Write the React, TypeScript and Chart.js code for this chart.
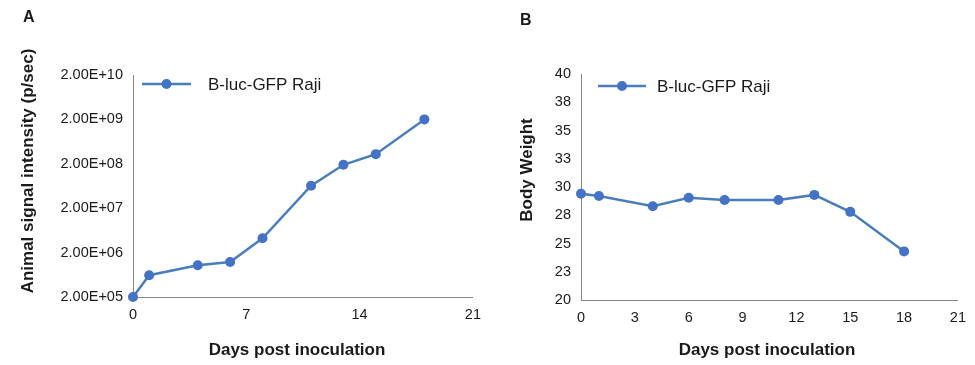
import React, { useEffect, useRef } from "react";
import { Chart, registerables } from "chart.js";

Chart.register(...registerables);

// ---- data ----
const days = [0, 1, 4, 6, 8, 11, 13, 15, 18];
const signal = [2.0e5, 6.2e5, 1.04e6, 1.23e6, 4.2e6, 6.4e7, 1.9e8, 3.3e8, 2.0e9];
const bodyWeight = [29.4, 29.2, 28.3, 29.05, 28.85, 28.85, 29.3, 27.8, 24.3];
const signalTicks = [2e5, 2e6, 2e7, 2e8, 2e9, 2e10];
const weightTicks = [20, 22.5, 25, 27.5, 30, 32.5, 35, 37.5, 40];
const seriesLabel = "B-luc-GFP Raji";
const xTitle = "Days post inoculation";
const yTitleA = "Animal signal intensity (p/sec)";
const yTitleB = "Body Weight";

const FONT = "'Liberation Sans', Arial, sans-serif";
const LINE_COLOR = "#4A7EBB";
const POINT_COLOR = "#4472C4";
const AXIS_COLOR = "#868686";
const TEXT_COLOR = "#1a1a1a";

function fmtExp(v: number): string {
  const [m, e] = v.toExponential(2).split("e");
  const n = parseInt(e, 10);
  const sign = n < 0 ? "-" : "+";
  return `${m.toUpperCase()}E${sign}${String(Math.abs(n)).padStart(2, "0")}`;
}

const overlayPlugin = {
  id: "overlay",
  afterDraw(chart: any, _args: any, opts: any) {
    const ctx = chart.ctx as CanvasRenderingContext2D;
    const area = chart.chartArea;
    ctx.save();
    // panel label
    ctx.fillStyle = TEXT_COLOR;
    ctx.font = `bold 16px ${FONT}`;
    ctx.textAlign = "left";
    ctx.textBaseline = "alphabetic";
    ctx.fillText(opts.panel, opts.panelX, opts.panelY);
    // axis titles
    ctx.font = `bold 17px ${FONT}`;
    ctx.textAlign = "center";
    ctx.textBaseline = "middle";
    ctx.fillText(opts.xTitle, opts.xTitleX, opts.xTitleY);
    ctx.save();
    ctx.translate(opts.yTitleX, opts.yTitleY);
    ctx.rotate(-Math.PI / 2);
    ctx.fillText(opts.yTitle, 0, 0);
    ctx.restore();
    // legend
    const ds = chart.data.datasets[0];
    const ly = area.top + opts.legendDy;
    const lx0 = area.left + opts.legendDx;
    ctx.strokeStyle = ds.borderColor;
    ctx.lineWidth = ds.borderWidth;
    ctx.beginPath();
    ctx.moveTo(lx0, ly);
    ctx.lineTo(lx0 + opts.legendLen, ly);
    ctx.stroke();
    ctx.fillStyle = ds.pointBackgroundColor;
    ctx.beginPath();
    ctx.arc(lx0 + opts.legendLen / 2, ly, ds.pointRadius, 0, Math.PI * 2);
    ctx.fill();
    ctx.fillStyle = TEXT_COLOR;
    ctx.font = `17px ${FONT}`;
    ctx.textAlign = "left";
    ctx.textBaseline = "middle";
    ctx.fillText(ds.label, lx0 + opts.legendLen + opts.legendGap, ly + 1);
    ctx.restore();
  },
};

function dataset(values: number[]) {
  return {
    label: seriesLabel,
    data: days.map((d, i) => ({ x: d, y: values[i] })),
    borderColor: LINE_COLOR,
    borderWidth: 2.5,
    pointRadius: 5,
    pointHoverRadius: 5,
    pointBackgroundColor: POINT_COLOR,
    pointBorderColor: POINT_COLOR,
    pointBorderWidth: 0,
    tension: 0,
    clip: false as any,
  };
}

const tickFont = { family: FONT, size: 14.5 };

function configA(): any {
  return {
    type: "line",
    data: { datasets: [dataset(signal)] },
    options: {
      responsive: false,
      animation: false,
      devicePixelRatio: 1,
      events: [],
      layout: { padding: { top: 75, right: 14, left: 0, bottom: 0 } },
      plugins: {
        legend: { display: false },
        tooltip: { enabled: false },
        overlay: {
          panel: "A", panelX: 23, panelY: 21.5,
          xTitle, xTitleX: 297, xTitleY: 350,
          yTitle: yTitleA, yTitleX: 28, yTitleY: 171,
          legendDx: 9, legendDy: 9, legendLen: 49, legendGap: 17,
        },
      },
      scales: {
        x: {
          type: "linear", min: 0, max: 21,
          ticks: { stepSize: 7, padding: 9, color: TEXT_COLOR, font: tickFont, autoSkip: false, maxRotation: 0 },
          grid: { display: false, drawTicks: false },
          border: { display: true, color: AXIS_COLOR, width: 1 },
          afterFit: (s: any) => { s.height = 68; },
        },
        y: {
          type: "logarithmic", min: 2e5, max: 2e10,
          afterBuildTicks: (s: any) => { s.ticks = signalTicks.map((v) => ({ value: v })); },
          ticks: { callback: (v: any) => fmtExp(Number(v)), padding: 10, color: TEXT_COLOR, font: tickFont, autoSkip: false },
          grid: { display: false, drawTicks: false },
          border: { display: true, color: AXIS_COLOR, width: 1 },
          afterFit: (s: any) => { s.width = 133; },
        },
      },
    },
    plugins: [overlayPlugin],
  };
}

function configB(): any {
  return {
    type: "line",
    data: { datasets: [dataset(bodyWeight)] },
    options: {
      responsive: false,
      animation: false,
      devicePixelRatio: 1,
      events: [],
      layout: { padding: { top: 74, right: 14, left: 0, bottom: 0 } },
      plugins: {
        legend: { display: false },
        tooltip: { enabled: false },
        overlay: {
          panel: "B", panelX: 30, panelY: 25,
          xTitle, xTitleX: 277, xTitleY: 350,
          yTitle: yTitleB, yTitleX: 37, yTitleY: 170,
          legendDx: 17, legendDy: 12, legendLen: 48, legendGap: 11,
        },
      },
      scales: {
        x: {
          type: "linear", min: 0, max: 21,
          ticks: { stepSize: 3, padding: 9, color: TEXT_COLOR, font: tickFont, autoSkip: false, maxRotation: 0 },
          grid: { display: false, drawTicks: false },
          border: { display: true, color: AXIS_COLOR, width: 1 },
          afterFit: (s: any) => { s.height = 65; },
        },
        y: {
          type: "linear", min: 20, max: 40,
          afterBuildTicks: (s: any) => { s.ticks = weightTicks.map((v) => ({ value: v })); },
          ticks: { callback: (v: any) => String(Math.round(Number(v))), padding: 10, color: TEXT_COLOR, font: tickFont, autoSkip: false },
          grid: { display: false, drawTicks: false },
          border: { display: true, color: AXIS_COLOR, width: 1 },
          afterFit: (s: any) => { s.width = 91; },
        },
      },
    },
    plugins: [overlayPlugin],
  };
}

export default function App() {
  const refA = useRef<HTMLCanvasElement | null>(null);
  const refB = useRef<HTMLCanvasElement | null>(null);

  useEffect(() => {
    const a = new Chart(refA.current as HTMLCanvasElement, configA());
    const b = new Chart(refB.current as HTMLCanvasElement, configB());
    return () => {
      a.destroy();
      b.destroy();
    };
  }, []);

  return (
    <div style={{ position: "absolute", left: 0, top: 0, width: 975, height: 365, background: "#fff" }}>
      <canvas ref={refA} width={490} height={365} style={{ position: "absolute", left: 0, top: 0, width: 490, height: 365 }} />
      <canvas ref={refB} width={485} height={365} style={{ position: "absolute", left: 490, top: 0, width: 485, height: 365 }} />
    </div>
  );
}
